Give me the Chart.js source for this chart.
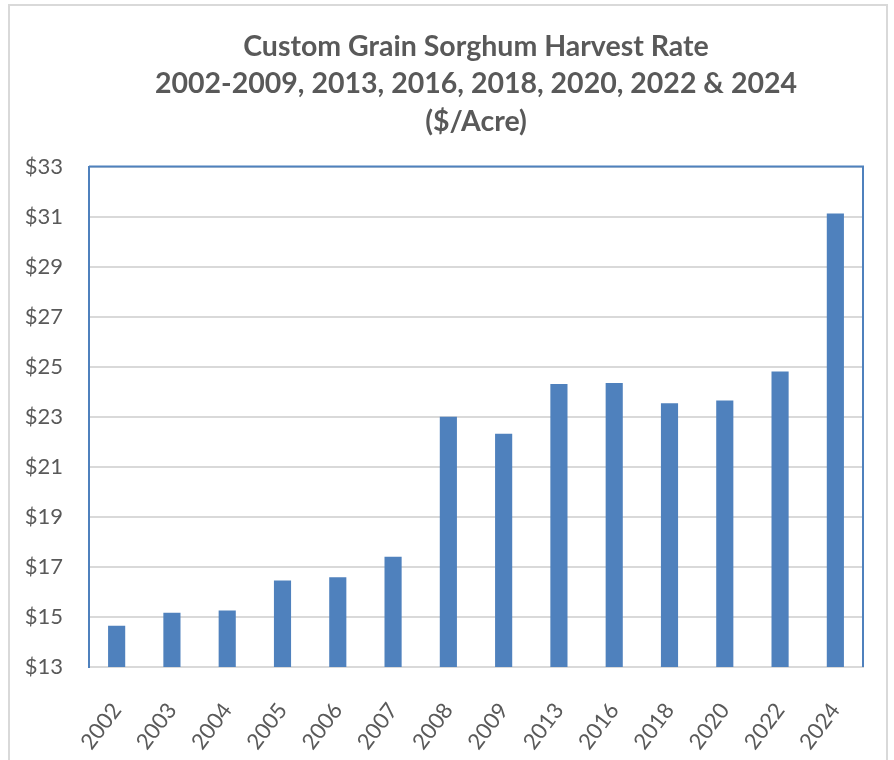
<!DOCTYPE html>
<html>
<head>
<meta charset="utf-8">
<title>Custom Grain Sorghum Harvest Rate</title>
<script src="https://cdn.jsdelivr.net/npm/chart.js@4.4.1/dist/chart.umd.min.js"></script>
<style>
  html, body { margin: 0; padding: 0; background: #ffffff; }
  #wrap { width: 894px; height: 760px; }
</style>
</head>
<body>
<div id="wrap"><canvas id="harvestChart" width="894" height="760"></canvas></div>
<script>
// Données
const years = ['2002', '2003', '2004', '2005', '2006', '2007', '2008', '2009', '2013', '2016', '2018', '2020', '2022', '2024'];
const rates = [14.65, 15.17, 15.26, 16.46, 16.59, 17.41, 23.0, 22.32, 24.31, 24.35, 23.54, 23.65, 24.81, 31.12];
const titleLines = ['Custom Grain Sorghum Harvest Rate', '2002-2009, 2013, 2016, 2018, 2020, 2022 & 2024', '($/Acre)'];
const yMin = 13;
const yMax = 33;
const yStep = 2;

const textColor = '#595959';
const barColor = '#4f81bd';
const gridColor = '#d9d9d9';

// Cadre gris + bordure bleue de la zone de tracé
const framePlugin = {
    id: 'frame',
    afterDraw(chart) {
        const ctx = chart.ctx;
        const a = chart.chartArea;
        ctx.save();
        ctx.strokeStyle = gridColor;
        ctx.lineWidth = 2;
        ctx.strokeRect(9, 5, 878, 800);
        ctx.strokeStyle = barColor;
        ctx.beginPath();
        ctx.moveTo(a.left, a.top);
        ctx.lineTo(a.right, a.top);
        ctx.lineTo(a.right, a.bottom);
        ctx.stroke();
        ctx.restore();
    }
};

const ctx = document.getElementById('harvestChart').getContext('2d');
new Chart(ctx, {
    type: 'bar',
    data: {
        labels: years,
        datasets: [{
            label: 'Harvest rate ($/acre)',
            data: rates,
            backgroundColor: barColor,
            borderWidth: 0,
            barPercentage: 0.31,
            categoryPercentage: 1
        }]
    },
    options: {
        responsive: false,
        animation: false,
        layout: { padding: { left: 0, right: 31, top: 0, bottom: 0 } },
        plugins: {
            legend: { display: false },
            tooltip: { enabled: false },
            title: {
                display: true,
                fullSize: false,
                text: titleLines,
                color: textColor,
                font: { family: 'Lato', size: 28.5, weight: 'bold', lineHeight: 1.316 },
                padding: { top: 28, bottom: 26 }
            }
        },
        scales: {
            x: {
                grid: { display: false, drawTicks: false },
                border: { display: true, color: gridColor, width: 2 },
                ticks: {
                    color: textColor,
                    font: { family: 'Lato', size: 22 },
                    minRotation: 53,
                    maxRotation: 53,
                    autoSkip: false,
                    padding: 31
                },
                afterFit(scale) { scale.height = 93; }
            },
            y: {
                min: yMin,
                max: yMax,
                grid: { color: gridColor, lineWidth: 2, drawTicks: false },
                border: { display: true, color: barColor, width: 2 },
                ticks: {
                    stepSize: yStep,
                    color: textColor,
                    font: { family: 'Lato', size: 22 },
                    padding: 26,
                    callback: value => '$' + value
                },
                afterFit(scale) { scale.width = 89; }
            }
        }
    },
    plugins: [framePlugin]
});
</script>
</body>
</html>
